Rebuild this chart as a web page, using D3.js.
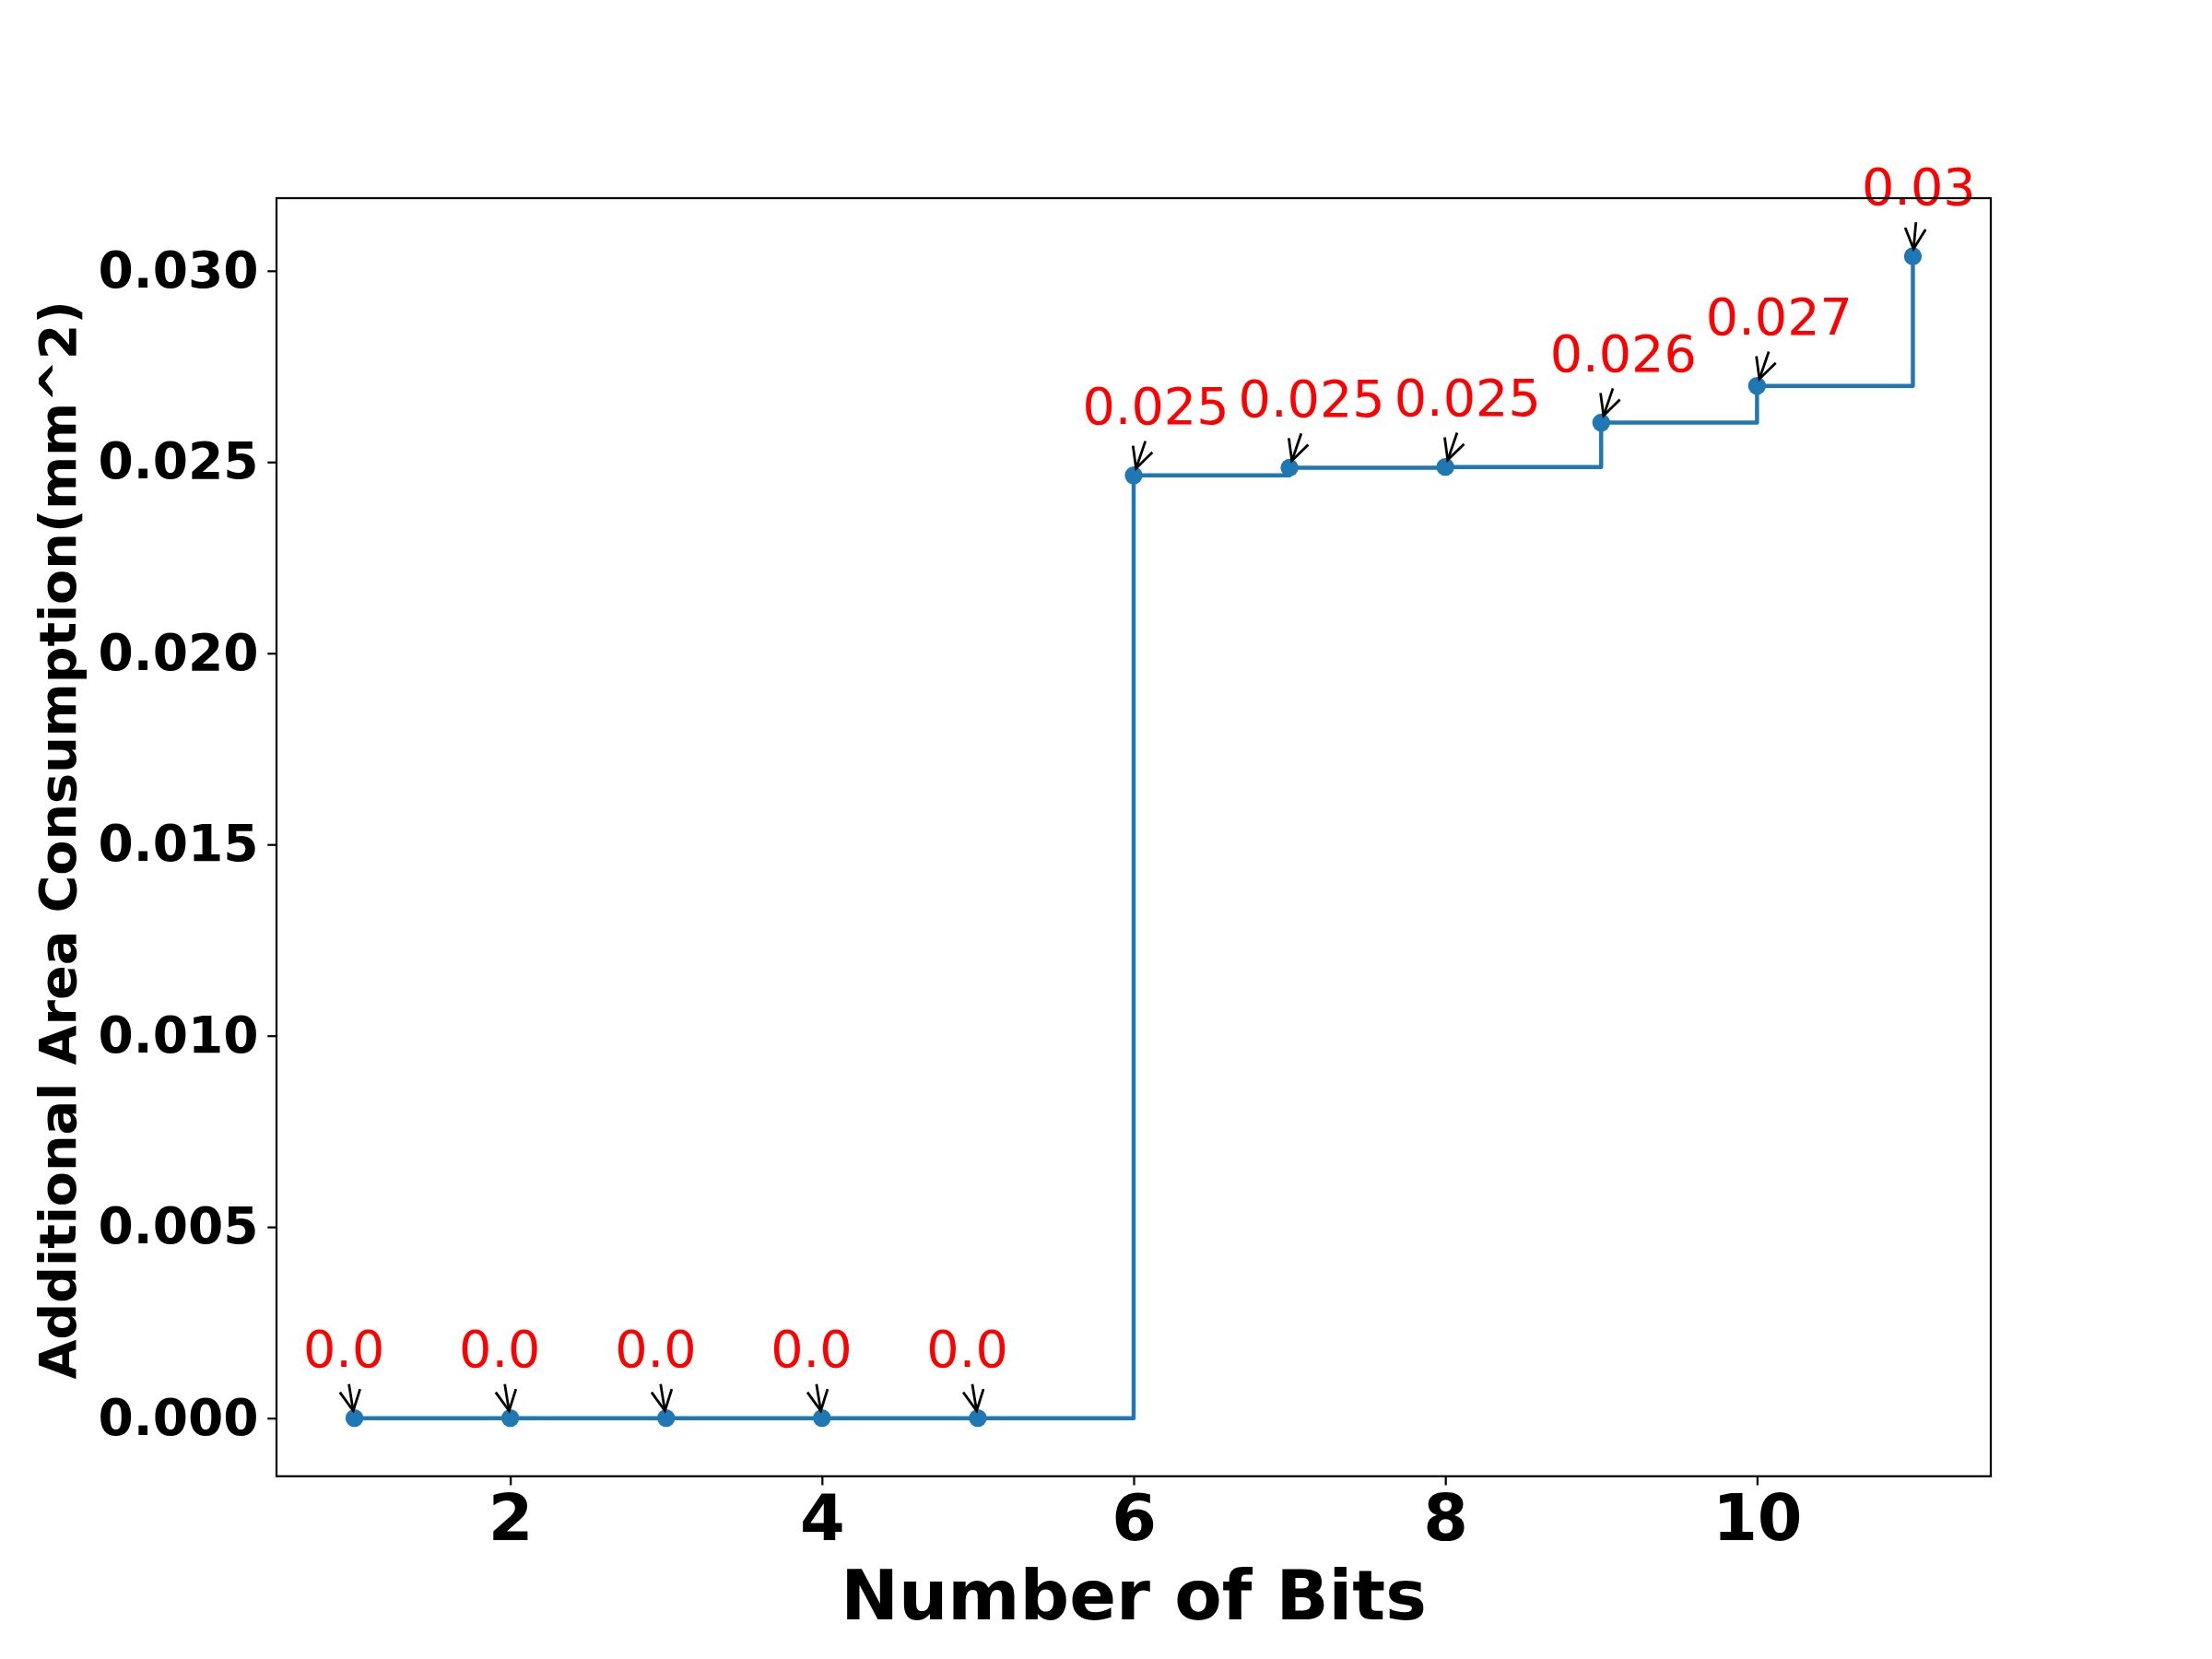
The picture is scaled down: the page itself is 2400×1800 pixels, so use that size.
<!DOCTYPE html>
<html>
<head>
<meta charset="utf-8">
<script src="https://cdn.jsdelivr.net/npm/d3@7"></script>
<style>
  html, body { margin: 0; padding: 0; background: #fff; }
  svg { display: block; }
  text { font-family: "DejaVu Sans", sans-serif; }
</style>
</head>
<body>
<svg id="chart" width="2400" height="1800"></svg>
<script>
// ---- data ----
const bits = [1, 2, 3, 4, 5, 6, 7, 8, 9, 10, 11];
const area = [0, 0, 0, 0, 0, 0.02465, 0.02485, 0.02487, 0.02603, 0.02699, 0.03038];
const xTicks = [2, 4, 6, 8, 10];
const yTicks = [0.000, 0.005, 0.010, 0.015, 0.020, 0.025, 0.030];
const xLabel = "Number of Bits";
const yLabel = "Additional Area Consumption(mm^2)";

// ---- layout ----
const svg = d3.select("#chart");
const L = 300, R = 2160, T = 215, B = 1601.7;
const pt = 200 / 72; // px per point

const x = d3.scaleLinear().domain([0.5, 11.5]).range([L, R]);
const ymin = 0, ymax = d3.max(area);
const pad = (ymax - ymin) * 0.05;
const y = d3.scaleLinear().domain([ymin - pad, ymax + pad]).range([B, T]);

// axes
const xAxis = d3.axisBottom(x).tickValues(xTicks).tickFormat(d3.format("d"))
  .tickSize(3.5 * pt).tickPadding(3.5 * pt);
const yAxis = d3.axisLeft(y).tickValues(yTicks).tickFormat(d3.format(".3f"))
  .tickSize(3.5 * pt).tickPadding(3.5 * pt);

const gx = svg.append("g").attr("transform", `translate(0,${B})`).call(xAxis);
gx.select(".domain").remove();
gx.selectAll(".tick line").attr("stroke", "#000").attr("stroke-width", 0.8 * pt);
gx.selectAll(".tick text").attr("fill", "#000")
  .style("font-family", "DejaVu Sans").style("font-weight", "bold").style("font-size", "70px");

const gy = svg.append("g").attr("transform", `translate(${L},0)`).call(yAxis);
gy.select(".domain").remove();
gy.selectAll(".tick line").attr("stroke", "#000").attr("stroke-width", 0.8 * pt);
gy.selectAll(".tick text").attr("fill", "#000")
  .style("font-family", "DejaVu Sans").style("font-weight", "bold").style("font-size", "55px");

// line (steps-post)
const pts = bits.map((b, i) => [b, area[i]]);
const line = d3.line().x(d => x(d[0])).y(d => y(d[1])).curve(d3.curveStepAfter);
svg.append("path").datum(pts).attr("d", line)
  .attr("fill", "none").attr("stroke", "#1f77b4").attr("stroke-width", 1.6 * pt)
  .attr("stroke-linejoin", "round").attr("stroke-linecap", "square");

// markers
svg.append("g").selectAll("circle").data(pts).join("circle")
  .attr("cx", d => x(d[0])).attr("cy", d => y(d[1])).attr("r", 9.7)
  .attr("fill", "#1f77b4");

// annotations
const annG = svg.append("g");
const fmt = v => {
  const r = Math.round(v * 1000) / 1000;
  let s = String(r);
  if (!s.includes(".")) s = s + ".0";
  return s;
};
pts.forEach(d => {
  const px = x(d[0]), py = y(d[1]);
  const tx = px - 20 * pt, ty = py - 20 * pt;
  const t = annG.append("text").attr("x", tx).attr("y", ty)
    .attr("fill", "red").style("font-size", "55.6px").text(fmt(d[1]));
  const bb = t.node().getBBox();
  const cx = bb.x + bb.width / 2;
  const bottom = ty + 0.236 * 55.6;
  const cy = (ty - 0.76 * 55.6 + bottom) / 2;
  const dx = px - cx, dy = py - cy;
  const len = Math.hypot(dx, dy);
  const ux = dx / len, uy = dy / len;
  const tExit = (bottom - cy) / uy;
  const sx = cx + ux * (tExit + 2 * pt), sy = cy + uy * (tExit + 2 * pt);
  const ex = px - ux * 8, ey = py - uy * 8;
  const hl = 0.4 * 20 * pt, hw = 0.2 * 20 * pt;
  const bx = ex - ux * hl, by = ey - uy * hl;
  const nx = -uy, ny = ux;
  const sw = 1 * pt;
  annG.append("line").attr("x1", sx).attr("y1", sy).attr("x2", ex).attr("y2", ey)
    .attr("stroke", "#000").attr("stroke-width", sw);
  annG.append("path")
    .attr("d", `M${bx + nx * hw},${by + ny * hw}L${ex},${ey}L${bx - nx * hw},${by - ny * hw}`)
    .attr("fill", "none").attr("stroke", "#000").attr("stroke-width", sw)
    .attr("stroke-linejoin", "miter");
});

// frame
svg.append("rect").attr("x", L).attr("y", T).attr("width", R - L).attr("height", B - T)
  .attr("fill", "none").attr("stroke", "#000").attr("stroke-width", 0.8 * pt);

// axis labels
svg.append("text").attr("x", (L + R) / 2).attr("y", 1756.7).attr("text-anchor", "middle")
  .style("font-weight", "bold").style("font-size", "75px").attr("fill", "#000").text(xLabel);
svg.append("text").attr("transform", `translate(81.7,${(T + B) / 2 + 3}) rotate(-90)`)
  .attr("text-anchor", "middle").style("font-weight", "bold").style("font-size", "55.6px")
  .attr("fill", "#000").text(yLabel);
</script>
</body>
</html>
